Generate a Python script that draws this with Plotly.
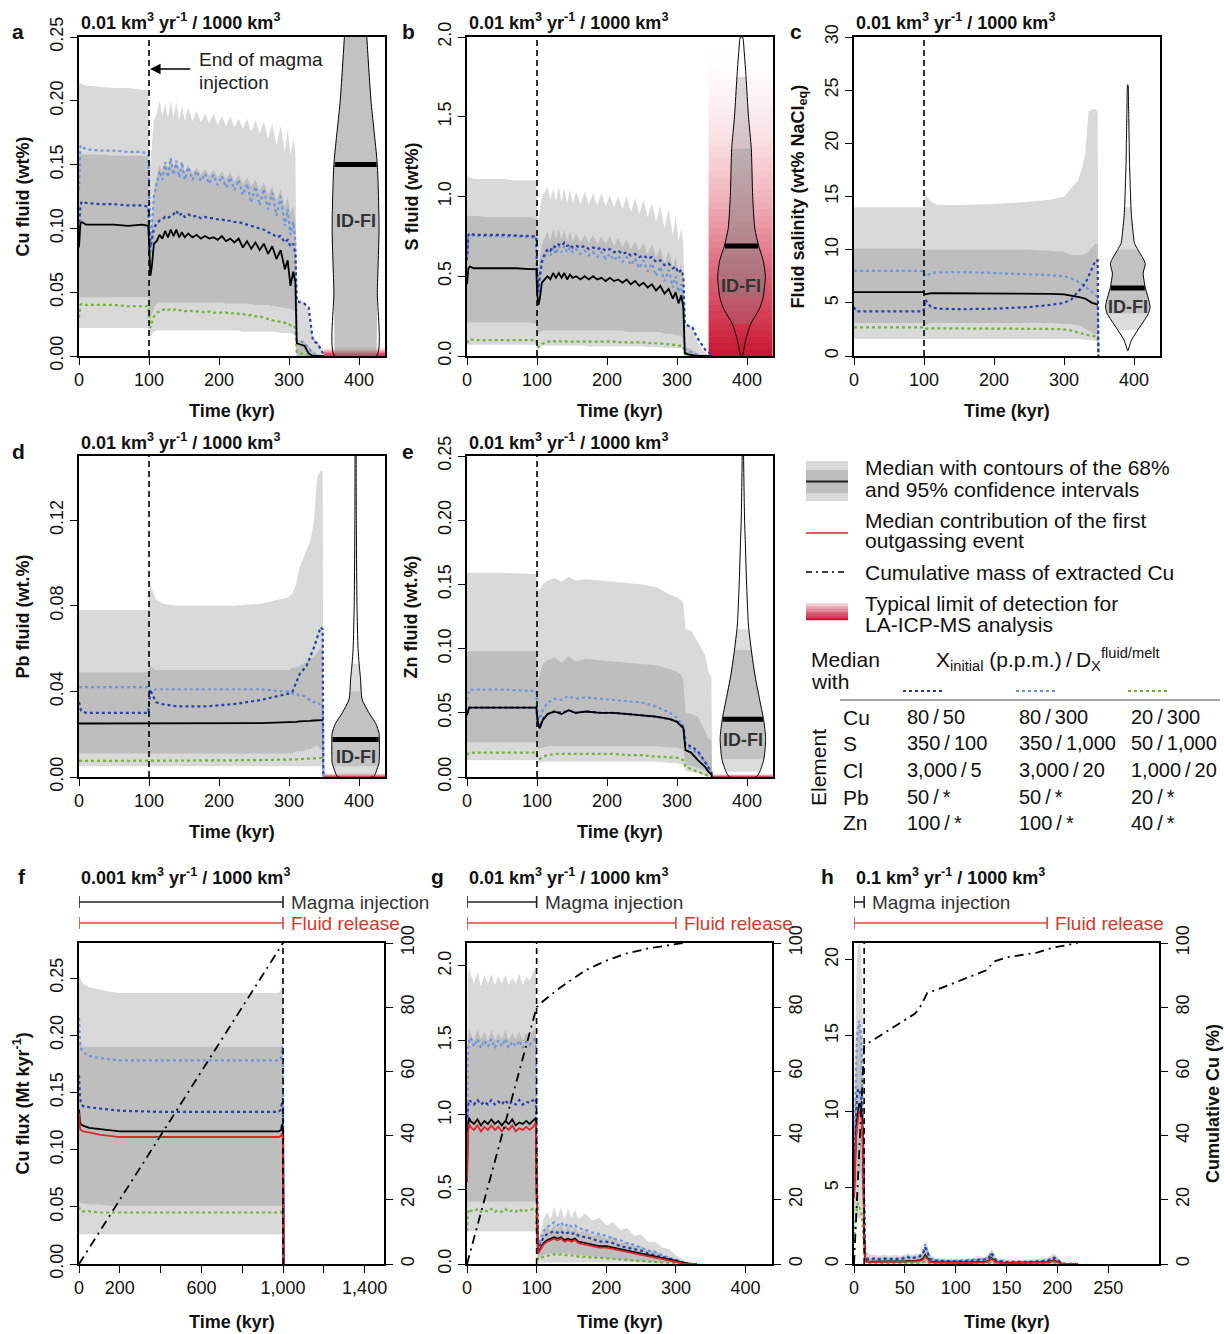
import numpy as np
import plotly.graph_objects as go

W, H = 1224, 1334
FONT = "Liberation Sans, Arial, Helvetica, sans-serif"
LIGHT = "#d9d9d9"
DARK = "#bebebe"
DBLUE = "#2b3fa8"
LBLUE = "#7095dc"
GREEN = "#72b33c"
RED = "#e0262a"
BARRED = "#d44a38"

def px(x):
    return x / W

def py(y):
    return 1 - y / H

# ------------------------------------------------------------------ data
# panel a : Cu fluid (wt%)
tA = [0, 2, 4, 10, 30, 50, 70, 90, 99, 100,
      102, 104, 107, 111, 115, 119, 123, 127, 131, 135,
      139, 143, 147, 151, 156, 162, 168, 174, 180, 186,
      192, 198, 204, 210, 216, 222, 228, 234, 240, 246,
      252, 258, 264, 270, 276, 282, 288, 294, 298, 302,
      306, 309, 311, 316, 322, 328, 334, 340, 346, 350]
a_hi95 = [.215, .214, .213, .212, .211, .210, .210, .209, .208, .160,
          .150, .165, .185, .190, .200, .188, .198, .186, .200, .187,
          .199, .185, .196, .184, .195, .184, .192, .183, .190, .182,
          .190, .181, .188, .180, .188, .179, .186, .178, .186, .176,
          .185, .174, .184, .170, .182, .165, .180, .160, .178, .158,
          .170, .160, .045, .044, .042, .035, .015, .012, .008, 0]
a_lo95 = [.022, .022, .022, .022, .022, .022, .022, .022, .022, .018,
          .015, .016, .019, .020, .020, .020, .020, .020, .020, .020,
          .020, .020, .020, .020, .020, .020, .020, .020, .020, .020,
          .020, .020, .020, .020, .020, .020, .020, .019, .019, .019,
          .019, .019, .019, .019, .019, .019, .018, .018, .018, .018,
          .017, .016, 0, 0, 0, 0, 0, 0, 0, 0]
a_hi68 = [.157, .158, .158, .158, .158, .157, .157, .157, .156, .090,
          .080, .100, .130, .140, .150, .145, .153, .146, .155, .147,
          .154, .145, .152, .144, .150, .143, .148, .142, .147, .141,
          .146, .140, .145, .139, .144, .137, .142, .135, .140, .133,
          .138, .130, .136, .127, .133, .122, .130, .117, .125, .112,
          .118, .105, .012, .012, .011, .008, .004, .002, 0, 0]
a_lo68 = [.046, .046, .046, .046, .046, .046, .046, .046, .046, .032,
          .028, .032, .038, .041, .042, .042, .042, .042, .042, .042,
          .042, .042, .042, .042, .042, .042, .042, .042, .042, .042,
          .042, .042, .042, .041, .041, .041, .041, .041, .041, .041,
          .040, .040, .040, .040, .039, .039, .038, .038, .037, .037,
          .036, .035, 0, 0, 0, 0, 0, 0, 0, 0]
a_med = [.085, .104, .105, .103, .103, .103, .102, .103, .102, .085,
         .063, .070, .088, .090, .095, .092, .098, .093, .099, .094,
         .099, .093, .097, .093, .096, .093, .095, .092, .094, .092,
         .093, .091, .094, .090, .092, .089, .092, .085, .090, .084,
         .089, .083, .088, .080, .086, .076, .083, .068, .075, .055,
         .066, .058, .010, .009, .008, .002, 0, 0, 0, 0]
a_db = [.100, .118, .121, .120, .119, .119, .118, .118, .117, .100,
        .085, .090, .100, .104, .106, .107, .109, .108, .110, .111,
        .114, .110, .112, .109, .111, .109, .110, .108, .109, .108,
        .108, .107, .107, .106, .106, .105, .105, .104, .103, .102,
        .101, .100, .099, .097, .096, .093, .094, .089, .091, .086,
        .088, .080, .043, .042, .041, .038, .012, .010, .005, 0]
a_lb = [.130, .165, .164, .162, .161, .161, .160, .160, .158, .120,
        .080, .100, .125, .135, .145, .138, .152, .140, .155, .142,
        .153, .140, .152, .138, .148, .138, .145, .137, .143, .135,
        .142, .134, .141, .132, .140, .130, .138, .126, .135, .120,
        .133, .118, .131, .115, .128, .110, .125, .102, .115, .095,
        .105, .090, .012, .012, .010, .006, .002, 0, 0, 0]
a_gr = [.030, .040, .041, .040, .040, .040, .039, .039, .039, .030,
        .022, .026, .031, .034, .035, .036, .037, .036, .037, .036,
        .037, .036, .036, .035, .036, .035, .035, .035, .034, .035,
        .034, .034, .034, .034, .033, .034, .033, .033, .032, .032,
        .031, .031, .030, .029, .028, .027, .027, .026, .026, .024,
        .024, .022, .003, .002, .001, 0, 0, 0, 0, 0]

# panel b : S fluid (wt%)
tB = tA
b_hi95 = [1.13, 1.12, 1.12, 1.11, 1.11, 1.11, 1.10, 1.10, 1.10, 0.90,
          0.85, 0.92, 1.00, 1.03, 1.06, 0.98, 1.05, 0.97, 1.06, 0.97,
          1.05, 0.96, 1.04, 0.96, 1.03, 0.95, 1.03, 0.95, 1.02, 0.94,
          1.02, 0.94, 1.01, 0.93, 1.00, 0.92, 1.00, 0.90, 0.99, 0.89,
          0.98, 0.87, 0.96, 0.84, 0.94, 0.80, 0.92, 0.75, 0.88, 0.72,
          0.80, 0.70, 0.20, 0.19, 0.18, 0.10, 0.05, 0.02, 0.01, 0]
b_lo95 = [.07, .07, .07, .07, .07, .07, .07, .07, .07, .06,
          .05, .055, .065, .065, .065, .065, .065, .065, .065, .065,
          .065, .065, .065, .065, .065, .065, .065, .06, .06, .06,
          .06, .06, .06, .06, .06, .06, .06, .06, .06, .06,
          .06, .055, .055, .055, .055, .05, .05, .05, .05, .05,
          .05, .045, 0, 0, 0, 0, 0, 0, 0, 0]
b_hi68 = [.87, .88, .88, .88, .87, .87, .87, .87, .86, .60,
          .55, .60, .70, .74, .78, .72, .80, .73, .80, .73,
          .79, .72, .78, .72, .77, .71, .76, .71, .76, .70,
          .75, .70, .75, .69, .74, .68, .73, .67, .72, .66,
          .71, .64, .70, .62, .68, .58, .66, .55, .62, .52,
          .58, .48, .06, .05, .04, .02, .01, 0, 0, 0]
b_lo68 = [.21, .21, .21, .21, .21, .21, .21, .21, .20, .17,
          .14, .15, .16, .16, .16, .16, .16, .16, .16, .16,
          .16, .16, .16, .16, .16, .16, .16, .16, .16, .16,
          .16, .16, .16, .16, .16, .16, .15, .15, .15, .15,
          .15, .15, .15, .15, .15, .14, .14, .14, .13, .13,
          .12, .11, 0, 0, 0, 0, 0, 0, 0, 0]
b_med = [.45, .55, .56, .55, .55, .55, .55, .545, .545, .40,
         .32, .36, .46, .48, .50, .48, .52, .49, .52, .49,
         .52, .48, .51, .49, .50, .48, .50, .48, .50, .48,
         .49, .47, .49, .47, .48, .46, .48, .45, .47, .44,
         .46, .43, .45, .41, .44, .39, .42, .36, .40, .33,
         .38, .30, .02, .01, .005, 0, 0, 0, 0, 0]
b_db = [.60, .76, .77, .76, .76, .76, .755, .75, .75, .55,
        .40, .50, .60, .64, .67, .66, .69, .68, .70, .69,
        .71, .69, .70, .68, .69, .68, .69, .67, .68, .67,
        .68, .66, .67, .65, .66, .64, .65, .63, .64, .62,
        .63, .61, .62, .59, .60, .57, .58, .55, .56, .52,
        .54, .50, .20, .19, .18, .12, .08, .04, .02, 0]
b_lb = [.62, .75, .76, .755, .75, .75, .75, .745, .74, .50,
        .38, .48, .58, .62, .66, .63, .68, .64, .69, .65,
        .69, .65, .68, .65, .67, .64, .66, .63, .65, .62,
        .65, .61, .64, .60, .63, .59, .62, .57, .61, .55,
        .60, .53, .58, .50, .56, .47, .54, .43, .50, .40,
        .45, .38, .04, .03, .02, .01, 0, 0, 0, 0]
b_gr = [.08, .10, .105, .10, .10, .10, .10, .10, .10, .07,
        .055, .06, .075, .085, .09, .09, .095, .09, .095, .09,
        .095, .09, .09, .09, .09, .09, .09, .09, .09, .09,
        .09, .09, .09, .09, .085, .09, .085, .085, .085, .085,
        .085, .08, .08, .08, .08, .075, .075, .07, .07, .065,
        .065, .06, .01, .005, 0, 0, 0, 0, 0, 0]

# panel c : fluid salinity (wt% NaCl eq)
tC = [0, 3, 10, 50, 99, 100, 102, 105, 110, 120, 150, 200, 250, 280, 300,
      310, 320, 325, 330, 335, 340, 345, 348, 349]
c_hi95 = [14.0, 14.0, 14.0, 14.0, 14.0, 14.5, 15.3, 14.9, 14.5, 14.2, 14.2, 14.3, 14.5, 14.7, 15.0,
          15.8, 16.5, 17.5, 19.0, 23.0, 23.2, 23.2, 23.0, 0]
c_lo95 = [1.6, 1.6, 1.6, 1.6, 1.6, 1.6, 1.6, 1.6, 1.6, 1.6, 1.6, 1.6, 1.6, 1.6, 1.6,
          1.6, 1.6, 1.6, 1.55, 1.5, 1.5, 1.4, 1.3, 0]
c_hi68 = [10.1, 10.1, 10.1, 10.1, 10.1, 10.0, 10.0, 10.0, 10.0, 10.0, 10.0, 10.0, 10.0, 9.9, 9.8,
          9.5, 9.5, 9.5, 9.6, 9.8, 10.2, 10.6, 10.5, 0]
c_lo68 = [3.1, 3.1, 3.1, 3.1, 3.1, 3.0, 2.9, 3.0, 3.1, 3.1, 3.1, 3.1, 3.1, 3.1, 3.0,
          3.0, 2.9, 2.8, 2.6, 2.4, 2.2, 2.0, 2.0, 0]
c_med = [6.0, 6.0, 6.0, 6.0, 6.0, 5.9, 5.8, 5.85, 5.9, 5.9, 5.9, 5.9, 5.9, 5.85, 5.8,
         5.7, 5.6, 5.5, 5.4, 5.2, 5.0, 4.9, 4.8, None]
c_lb = [8.0, 8.0, 8.0, 8.0, 8.0, 7.6, 7.5, 7.6, 7.8, 7.85, 7.9, 7.8, 7.7, 7.6, 7.5,
        7.3, 7.0, 6.8, 6.5, 6.3, 6.0, 5.7, 5.5, 0]
c_db = [4.6, 4.2, 4.2, 4.2, 4.2, 4.5, 5.3, 5.0, 4.6, 4.45, 4.4, 4.45, 4.6, 4.8, 5.0,
        5.3, 6.0, 6.4, 6.8, 7.5, 8.3, 9.0, 9.0, 0]
c_gr = [2.7, 2.7, 2.7, 2.7, 2.7, 2.6, 2.55, 2.6, 2.6, 2.6, 2.6, 2.6, 2.6, 2.55, 2.5,
        2.4, 2.2, 2.1, 2.0, 1.95, 1.9, 1.85, 1.8, 0]

# panel d : Pb fluid (wt.%)
tD = [0, 3, 10, 50, 99, 100, 102, 104, 110, 120, 140, 180, 220, 260, 290,
      300, 305, 310, 315, 320, 325, 330, 335, 340, 345, 348, 349]
d_hi95 = [.078, .078, .078, .078, .078, .085, .091, .088, .083, .081, .080, .080, .080, .081, .083,
          .084, .086, .090, .098, .102, .106, .110, .118, .140, .143, .143, 0]
d_lo95 = [.005, .005, .005, .005, .005, .005, .005, .005, .005, .005, .005, .005, .005, .005, .005,
          .005, .005, .005, .005, .005, .005, .005, .005, .005, .005, .005, 0]
d_hi68 = [.049, .049, .049, .049, .049, .050, .052, .051, .050, .050, .050, .050, .050, .050, .050,
          .050, .051, .051, .052, .053, .054, .055, .056, .058, .060, .060, 0]
d_lo68 = [.011, .011, .011, .011, .011, .011, .011, .011, .011, .011, .011, .011, .011, .011, .011,
          .011, .011, .012, .012, .012, .013, .013, .014, .015, .013, .012, 0]
d_med = [.025, .025, .025, .025, .025, .025, .0252, .025, .025, .025, .025, .025, .025, .0252, .0255,
         .0255, .0256, .0258, .026, .026, .026, .0262, .0264, .0265, .0266, .0266, None]
d_lb = [.042, .042, .042, .042, .042, .041, .040, .040, .041, .041, .041, .041, .041, .041, .040,
        .040, .039, .039, .038, .038, .037, .036, .035, .035, .034, .033, 0]
d_db = [.035, .031, .030, .030, .030, .034, .041, .039, .035, .034, .033, .033, .034, .036, .038,
        .039, .040, .044, .048, .050, .052, .056, .060, .065, .070, .069, 0]
d_gr = [.0075, .0075, .0075, .0075, .0075, .0075, .0075, .0075, .0076, .0076, .0077, .0077, .0078, .0079, .008,
        .008, .008, .0082, .0083, .0084, .0085, .0086, .0088, .009, .009, .009, 0]

# panel e : Zn fluid (wt.%)
tE = [0, 3, 10, 50, 99, 100, 102, 104, 108, 115, 125, 135, 145, 155, 170,
      190, 210, 230, 250, 270, 290, 300, 305, 309, 312, 320, 330, 340, 345, 349, 350]
e_hi95 = [.159, .159, .159, .159, .158, .150, .145, .147, .150, .153, .155, .152, .156, .153, .154,
          .153, .152, .151, .150, .148, .142, .140, .138, .135, .115, .114, .105, .095, .082, .078, 0]
e_lo95 = [.013, .013, .013, .013, .013, .012, .011, .011, .012, .012, .012, .012, .012, .012, .012,
          .012, .012, .012, .012, .012, .011, .011, .010, .010, .005, .004, .003, .001, 0, 0, 0]
e_hi68 = [.098, .098, .098, .098, .098, .080, .075, .080, .088, .091, .093, .089, .094, .090, .092,
          .091, .090, .089, .088, .087, .084, .082, .080, .075, .050, .049, .047, .036, .030, .028, 0]
e_lo68 = [.027, .027, .027, .027, .027, .024, .022, .022, .023, .024, .024, .024, .024, .024, .024,
          .024, .024, .024, .024, .024, .023, .023, .022, .021, .010, .009, .007, .005, .003, .002, 0]
e_med = [.048, .054, .054, .054, .054, .048, .040, .038, .044, .049, .051, .049, .052, .050, .051,
         .050, .050, .049, .048, .047, .045, .043, .040, .038, .021, .019, .013, .008, .004, .002, 0]
e_db = [.049, .054, .054, .054, .054, .048, .041, .039, .045, .049, .051, .050, .052, .050, .051,
        .050, .050, .049, .048, .047, .045, .043, .041, .039, .025, .024, .020, .012, .008, .004, 0]
e_lb = [.060, .068, .068, .068, .067, .055, .047, .045, .052, .058, .061, .060, .063, .061, .062,
        .061, .060, .059, .058, .055, .050, .046, .043, .040, .025, .022, .018, .012, .008, .004, 0]
e_gr = [.017, .019, .019, .019, .019, .016, .014, .014, .016, .017, .018, .018, .018, .018, .018,
        .018, .018, .017, .017, .016, .015, .015, .014, .013, .008, .006, .004, .002, .001, 0, 0]

# panel f : Cu flux, 0.001 km3/yr
tF = [0, 2, 5, 10, 20, 50, 100, 150, 200, 400, 600, 800, 980, 990, 995, 1000, 1003]
f_hi95 = [.255, .252, .250, .248, .245, .242, .240, .238, .237, .237, .237, .237, .237, .240, .250, .240, 0]
f_lo95 = [.026, .026, .026, .026, .026, .026, .026, .026, .026, .026, .026, .026, .026, .026, .026, .026, 0]
f_hi68 = [.195, .193, .192, .191, .190, .190, .190, .190, .190, .190, .190, .190, .190, .190, .190, .185, 0]
f_lo68 = [.054, .054, .054, .053, .053, .052, .052, .051, .051, .051, .051, .051, .051, .051, .051, .050, 0]
f_med = [.135, .130, .124, .122, .121, .119, .118, .117, .116, .116, .116, .116, .116, .117, .122, .115, 0]
f_red = [.132, .125, .118, .117, .116, .115, .113, .112, .111, .111, .111, .111, .111, .112, .114, .110, 0]
f_lb = [.215, .205, .195, .188, .185, .182, .180, .179, .178, .178, .178, .178, .178, .180, .190, .185, 0]
f_db = [.165, .155, .145, .140, .138, .137, .136, .135, .134, .133, .133, .133, .133, .135, .142, .135, 0]
f_gr = [.050, .048, .047, .047, .046, .046, .045, .045, .045, .045, .045, .045, .045, .045, .047, .046, 0]
tFc = [0, 1000]
f_cum = [0, 100]

# panel g : Cu flux, 0.01 km3/yr
tG = [0, 1, 3, 5, 10, 15, 20, 25, 30, 35,
      40, 45, 50, 55, 60, 65, 70, 75, 80, 85,
      90, 95, 99, 100, 102, 105, 110, 115, 120, 125,
      130, 135, 140, 145, 150, 155, 160, 170, 180, 190,
      200, 210, 220, 230, 240, 250, 260, 270, 280, 290,
      300, 310, 320, 330]
g_hi95 = [1.2, 1.9, 2.0, 1.95, 1.88, 1.96, 1.86, 1.94, 1.88, 1.95,
          1.87, 1.93, 1.88, 1.94, 1.87, 1.92, 1.88, 1.95, 1.87, 1.93,
          1.90, 1.96, 2.0, 1.0, 0.12, 0.20, 0.30, 0.35, 0.30, 0.38,
          0.31, 0.38, 0.30, 0.37, 0.31, 0.36, 0.30, 0.34, 0.29, 0.31,
          0.26, 0.28, 0.23, 0.24, 0.19, 0.20, 0.15, 0.15, 0.11, 0.10,
          0.06, 0.03, 0.01, 0]
g_lo95 = [0.20, 0.22, 0.22, 0.22, 0.22, 0.22, 0.22, 0.22, 0.22, 0.22,
          0.22, 0.22, 0.22, 0.22, 0.22, 0.22, 0.22, 0.22, 0.22, 0.22,
          0.22, 0.22, 0.22, 0.10, 0.01, 0.01, 0.01, 0.01, 0.01, 0.01,
          0.01, 0.01, 0.01, 0.01, 0.01, 0.01, 0.01, 0.01, 0.01, 0.01,
          0.01, 0.01, 0.01, 0.01, 0.01, 0.005, 0.005, 0.005, 0.005, 0.005,
          0, 0, 0, 0]
g_hi68 = [0.9, 1.5, 1.58, 1.55, 1.50, 1.57, 1.51, 1.56, 1.50, 1.57,
          1.50, 1.55, 1.51, 1.57, 1.50, 1.55, 1.51, 1.56, 1.50, 1.55,
          1.52, 1.57, 1.58, 0.8, 0.08, 0.15, 0.22, 0.25, 0.22, 0.27,
          0.23, 0.27, 0.22, 0.26, 0.22, 0.25, 0.21, 0.23, 0.19, 0.20,
          0.17, 0.18, 0.14, 0.15, 0.12, 0.12, 0.09, 0.09, 0.06, 0.05,
          0.03, 0.01, 0, 0]
g_lo68 = [0.35, 0.42, 0.42, 0.42, 0.42, 0.42, 0.42, 0.42, 0.42, 0.42,
          0.42, 0.42, 0.42, 0.42, 0.42, 0.42, 0.42, 0.42, 0.42, 0.42,
          0.42, 0.42, 0.42, 0.20, 0.04, 0.05, 0.06, 0.07, 0.07, 0.07,
          0.07, 0.07, 0.07, 0.07, 0.065, 0.065, 0.06, 0.055, 0.05, 0.045,
          0.04, 0.035, 0.03, 0.025, 0.02, 0.018, 0.015, 0.012, 0.01, 0.006,
          0.004, 0.002, 0, 0]
g_med = [0.55, 0.90, 0.98, 0.96, 0.94, 0.97, 0.93, 0.96, 0.94, 0.97,
         0.94, 0.96, 0.93, 0.96, 0.94, 0.97, 0.93, 0.95, 0.94, 0.96,
         0.94, 0.96, 0.98, 0.50, 0.08, 0.10, 0.14, 0.16, 0.17, 0.18,
         0.17, 0.18, 0.16, 0.17, 0.16, 0.17, 0.15, 0.14, 0.13, 0.12,
         0.12, 0.11, 0.10, 0.09, 0.08, 0.07, 0.06, 0.05, 0.04, 0.03,
         0.02, 0.005, 0, 0]
g_red = [0.55, 0.86, 0.94, 0.92, 0.90, 0.93, 0.89, 0.92, 0.90, 0.93,
         0.90, 0.92, 0.89, 0.92, 0.90, 0.93, 0.89, 0.91, 0.90, 0.92,
         0.90, 0.92, 0.95, 0.48, 0.07, 0.09, 0.13, 0.15, 0.16, 0.17,
         0.16, 0.17, 0.15, 0.16, 0.15, 0.16, 0.14, 0.13, 0.12, 0.11,
         0.11, 0.10, 0.09, 0.08, 0.07, 0.06, 0.05, 0.04, 0.035, 0.025,
         0.015, 0.004, 0, 0]
g_lb = [0.8, 1.40, 1.50, 1.52, 1.46, 1.51, 1.45, 1.50, 1.46, 1.51,
        1.45, 1.50, 1.46, 1.51, 1.45, 1.49, 1.46, 1.50, 1.45, 1.49,
        1.47, 1.50, 1.52, 0.80, 0.10, 0.15, 0.22, 0.25, 0.26, 0.28,
        0.26, 0.28, 0.25, 0.27, 0.25, 0.26, 0.24, 0.23, 0.21, 0.20,
        0.19, 0.17, 0.16, 0.14, 0.13, 0.11, 0.09, 0.08, 0.06, 0.04,
        0.03, 0.01, 0, 0]
g_db = [0.7, 1.05, 1.10, 1.09, 1.07, 1.10, 1.07, 1.09, 1.07, 1.10,
        1.07, 1.09, 1.07, 1.10, 1.07, 1.09, 1.07, 1.10, 1.07, 1.09,
        1.08, 1.10, 1.11, 0.60, 0.09, 0.13, 0.18, 0.20, 0.21, 0.22,
        0.21, 0.22, 0.20, 0.21, 0.20, 0.21, 0.19, 0.18, 0.17, 0.15,
        0.15, 0.14, 0.12, 0.11, 0.10, 0.09, 0.07, 0.06, 0.05, 0.035,
        0.025, 0.008, 0, 0]
g_gr = [0.22, 0.33, 0.37, 0.36, 0.35, 0.37, 0.35, 0.36, 0.35, 0.37,
        0.35, 0.36, 0.35, 0.37, 0.35, 0.36, 0.35, 0.37, 0.35, 0.36,
        0.36, 0.37, 0.37, 0.20, 0.03, 0.04, 0.05, 0.055, 0.06, 0.065,
        0.06, 0.065, 0.06, 0.06, 0.055, 0.055, 0.05, 0.048, 0.045, 0.04,
        0.038, 0.034, 0.03, 0.027, 0.024, 0.02, 0.017, 0.014, 0.011, 0.008,
        0.005, 0.002, 0, 0]
tGc = [0, 100, 110, 130, 150, 170, 200, 230, 260, 290, 310]
g_cum = [0, 80, 82, 85.5, 88.5, 91.5, 94.5, 96.8, 98.3, 99.4, 100]

# panel h : Cu flux, 0.1 km3/yr
tH = [0, 1, 2, 3, 4, 5, 6, 7, 8, 9,
      10, 11, 12, 14, 17, 20, 25, 30, 35, 40,
      45, 50, 53, 56, 60, 65, 68, 70, 72, 75,
      80, 90, 100, 110, 120, 130, 133, 135, 137, 140,
      150, 170, 190, 195, 197, 200, 205, 220]
h_hi95 = [5, 12, 18, 20, 21, 21, 21, 20, 18, 14,
          6, 1.5, 0.8, 0.7, 0.6, 0.6, 0.55, 0.6, 0.55, 0.6,
          0.55, 0.6, 0.7, 0.6, 0.65, 0.7, 1.0, 1.5, 1.2, 0.6,
          0.4, 0.35, 0.35, 0.35, 0.4, 0.5, 0.7, 1.0, 0.8, 0.4,
          0.3, 0.3, 0.4, 0.6, 0.7, 0.5, 0.1, 0]
h_lo95 = [2, 2.5, 3, 3, 3, 3, 3, 3, 2.5, 2,
          1, 0.1, 0.05, 0.03, 0.03, 0.03, 0.03, 0.03, 0.03, 0.03,
          0.03, 0.03, 0.03, 0.03, 0.03, 0.03, 0.03, 0.03, 0.03, 0.03,
          0.03, 0.03, 0.03, 0.03, 0.03, 0.03, 0.03, 0.03, 0.03, 0.03,
          0.02, 0.02, 0.02, 0.02, 0.02, 0.02, 0, 0]
h_hi68 = [4, 9, 13, 15, 16, 16, 15.5, 15, 13, 10,
          4, 1, 0.5, 0.45, 0.4, 0.4, 0.4, 0.4, 0.4, 0.4,
          0.4, 0.45, 0.5, 0.45, 0.5, 0.55, 0.8, 1.2, 0.9, 0.45,
          0.3, 0.25, 0.25, 0.25, 0.3, 0.35, 0.5, 0.8, 0.6, 0.3,
          0.2, 0.2, 0.3, 0.45, 0.5, 0.4, 0.05, 0]
h_lo68 = [3, 4, 5, 5.5, 6, 6, 6, 6, 5, 4,
          2, 0.2, 0.1, 0.08, 0.08, 0.08, 0.08, 0.08, 0.08, 0.08,
          0.08, 0.08, 0.08, 0.08, 0.08, 0.08, 0.08, 0.08, 0.08, 0.08,
          0.08, 0.08, 0.08, 0.08, 0.08, 0.08, 0.08, 0.08, 0.08, 0.08,
          0.05, 0.05, 0.05, 0.05, 0.05, 0.05, 0, 0]
h_med = [4.5, 7, 8.5, 9.5, 10, 10.5, 10.5, 10.3, 9.5, 8,
         2, 0.3, 0.2, 0.15, 0.15, 0.15, 0.15, 0.15, 0.15, 0.15,
         0.15, 0.18, 0.2, 0.18, 0.2, 0.25, 0.35, 0.6, 0.4, 0.15,
         0.12, 0.1, 0.1, 0.1, 0.12, 0.15, 0.25, 0.4, 0.3, 0.12,
         0.08, 0.08, 0.12, 0.2, 0.25, 0.15, 0.01, 0]
h_red = [4.3, 6.8, 8.2, 9.0, 9.6, 10.0, 10.0, 9.8, 9.0, 7.5,
         1.8, 0.25, 0.15, 0.12, 0.12, 0.12, 0.12, 0.12, 0.12, 0.12,
         0.12, 0.15, 0.17, 0.15, 0.17, 0.2, 0.3, 0.5, 0.35, 0.12,
         0.1, 0.08, 0.08, 0.08, 0.1, 0.12, 0.2, 0.35, 0.25, 0.1,
         0.06, 0.06, 0.1, 0.17, 0.2, 0.12, 0.01, 0]
h_lb = [6, 10, 13, 15, 15.5, 16, 15.5, 15, 12, 8,
        3, 0.6, 0.4, 0.35, 0.35, 0.4, 0.35, 0.4, 0.35, 0.4,
        0.35, 0.45, 0.5, 0.4, 0.45, 0.55, 0.8, 1.3, 0.9, 0.35,
        0.25, 0.2, 0.2, 0.25, 0.3, 0.35, 0.5, 0.8, 0.6, 0.25,
        0.15, 0.15, 0.25, 0.4, 0.45, 0.3, 0.02, 0]
h_db = [5, 8, 10, 11, 11.5, 11.5, 11.3, 11, 10, 7,
        2.5, 0.5, 0.35, 0.3, 0.3, 0.35, 0.3, 0.35, 0.3, 0.35,
        0.3, 0.4, 0.45, 0.35, 0.4, 0.5, 0.7, 1.1, 0.8, 0.3,
        0.22, 0.18, 0.18, 0.2, 0.25, 0.3, 0.45, 0.7, 0.5, 0.2,
        0.12, 0.12, 0.2, 0.35, 0.4, 0.25, 0.02, 0]
h_gr = [1.5, 2.5, 3.3, 3.8, 4.0, 3.8, 3.6, 3.4, 3.0, 2.0,
        0.6, 0.08, 0.05, 0.04, 0.04, 0.04, 0.04, 0.04, 0.04, 0.04,
        0.04, 0.05, 0.06, 0.05, 0.06, 0.07, 0.1, 0.18, 0.12, 0.05,
        0.03, 0.03, 0.03, 0.03, 0.03, 0.04, 0.06, 0.1, 0.08, 0.03,
        0.02, 0.02, 0.03, 0.05, 0.06, 0.04, 0, 0]
tHc = [0, 10, 20, 40, 60, 65, 72, 90, 110, 130, 138, 150, 180, 195, 220]
h_cum = [0, 68, 70, 74, 78, 80, 84.4, 86.5, 89, 91.5, 94.3, 95.5, 97, 98.5, 100]

# violins of measured inclusion data (ID-FI): levels, half-widths (kyr), centre
va_y = [0, 0.05, 0.10, 0.15, 0.20, 0.25, 0.27]
va_hw = [30, 31, 33.5, 31, 22, 16, 14]
vb_y = [0, 0.1, 0.2, 0.3, 0.37, 0.5, 0.6, 0.69, 0.8, 1.0, 1.3, 1.5, 1.75, 1.9, 2.0]
vb_hw = [1, 6, 13, 26, 31, 34, 31, 24.5, 19, 16, 14, 10, 6.5, 4, 1.5]
vc_y = [0.5, 0.85, 1.5, 2.45, 3.4, 4.0, 4.6, 5.5, 6.4, 7.8, 8.7, 10.0, 10.6, 11.85, 13, 14,
        16, 18, 20, 22, 24, 25.5]
vc_hw = [0.3, 2, 5.3, 14.3, 24, 29.5, 31.8, 29, 25, 22, 24.9, 14.5, 9.6, 7.2, 5.5, 4.5,
         3.5, 2.5, 2, 1.5, 1, 0.3]
vd_y = [0, 0.001, 0.005, 0.0065, 0.0175, 0.0205, 0.025, 0.03, 0.036, 0.04, 0.0453, 0.053,
        0.06, 0.08, 0.1, 0.12, 0.15, 0.16]
vd_hw = [25, 27.6, 32, 33.5, 34, 33.5, 28.8, 19, 9.6, 8, 7.2, 5, 3.5, 2, 1.4, 1, 0.8, 0.8]
ve_y = [0, 0.004, 0.014, 0.03, 0.045, 0.06, 0.08, 0.099, 0.115, 0.12, 0.15, 0.18, 0.2, 0.25, 0.26]
ve_hw = [19, 24, 30, 32.5, 29.5, 24, 17, 12, 8.5, 7.7, 5.3, 3.6, 2.4, 1, 1]
viol_center = {'a': 395, 'b': 392, 'c': 391, 'd': 395, 'e': 394}
viol_med = {'a': 0.15, 'b': 0.69, 'c': 6.4, 'd': 0.0175, 'e': 0.045}
viol_q95 = {'a': (0, 0.27), 'b': (0.2, 1.75), 'c': (2.45, 14), 'd': (0.001, 0.053), 'e': (0.004, 0.115)}
viol_q68 = {'a': (0, 0.27), 'b': (0.37, 1.3), 'c': (4.0, 10.0), 'd': (0.005, 0.04), 'e': (0.014, 0.099)}
viol_label_y = {'a': 0.106, 'b': 0.44, 'c': 4.6, 'd': 0.0092, 'e': 0.029}

# LA-ICP-MS limit of detection: start time and upper value
lod_x0 = {'a': 350, 'b': 345, 'd': 349, 'e': 351}
lod_top = {'a': 0.008, 'b': 2.0, 'd': 0.0022, 'e': 0.003}

inj_end_ae = 100
inj_end = {'f': 1000, 'g': 100, 'h': 10}
fluid_end = {'f': 1000, 'g': 300, 'h': 190}
arrow_y, arrow_tail = 0.225, 161

leg_elements = ['Cu', 'S', 'Cl', 'Pb', 'Zn']
leg_col1 = ['80 / 50', '350 / 100', '3,000 / 5', '50 / *', '100 / *']
leg_col2 = ['80 / 300', '350 / 1,000', '3,000 / 20', '50 / *', '100 / *']
leg_col3 = ['20 / 300', '50 / 1,000', '1,000 / 20', '20 / *', '40 / *']

# ------------------------------------------------------------------ layout spec
P = {
    'a': dict(n=1, box=(79, 385, 37, 356), xr=437, yr=0.25, yt=[0, .05, .10, .15, .20, .25], yf='{:.2f}',
              yl='Cu fluid (wt%)', ylx=22),
    'b': dict(n=2, box=(467, 773, 37, 356), xr=437, yr=2.0, yt=[0, .5, 1, 1.5, 2], yf='{:.1f}',
              yl='S fluid (wt%)', ylx=411),
    'c': dict(n=3, box=(854, 1160, 37, 356), xr=437, yr=30, yt=[0, 5, 10, 15, 20, 25, 30], yf='{:.0f}',
              yl='Fluid salinity (wt% NaCl<sub>eq</sub>)', ylx=799),
    'd': dict(n=4, box=(79, 385, 456, 777), xr=437, yr=0.15, yt=[0, .04, .08, .12], yf='{:.2f}',
              yl='Pb fluid (wt.%)', ylx=22),
    'e': dict(n=5, box=(467, 773, 456, 777), xr=437, yr=0.25, yt=[0, .05, .10, .15, .20, .25], yf='{:.2f}',
              yl='Zn fluid (wt.%)', ylx=410),
    'f': dict(n=6, box=(79, 384, 943, 1264), xr=1495, yr=0.2806, yt=[0, .05, .10, .15, .20, .25], yf='{:.2f}',
              yl='Cu flux (Mt kyr<sup>-1</sup>)', ylx=22),
    'g': dict(n=7, box=(467, 772, 943, 1264), xr=438, yr=2.154, yt=[0, .5, 1, 1.5, 2], yf='{:.1f}',
              yl=None, ylx=None),
    'h': dict(n=8, box=(854, 1159, 943, 1264), xr=300, yr=21.1, yt=[0, 5, 10, 15, 20], yf='{:.0f}',
              yl=None, ylx=None),
}
xt_std = ([0, 100, 200, 300, 400], ['0', '100', '200', '300', '400'])
xt_f = ([0, 200, 400, 600, 800, 1000, 1200, 1400], ['0', '200', '', '600', '', '1,000', '', '1,400'])
xt_h = ([0, 50, 100, 150, 200, 250], ['0', '50', '100', '150', '200', '250'])
subtitle = {k: '0.01 km<sup>3</sup> yr<sup>-1</sup> / 1000 km<sup>3</sup>' for k in 'abcdeg'}
subtitle['f'] = '0.001 km<sup>3</sup> yr<sup>-1</sup> / 1000 km<sup>3</sup>'
subtitle['h'] = '0.1 km<sup>3</sup> yr<sup>-1</sup> / 1000 km<sup>3</sup>'
right_ax = {'f': 9, 'g': 10, 'h': 11}

series = {
    'a': (tA, a_lo95, a_hi95, a_lo68, a_hi68, a_med, a_db, a_lb, a_gr, None),
    'b': (tB, b_lo95, b_hi95, b_lo68, b_hi68, b_med, b_db, b_lb, b_gr, None),
    'c': (tC, c_lo95, c_hi95, c_lo68, c_hi68, c_med, c_db, c_lb, c_gr, None),
    'd': (tD, d_lo95, d_hi95, d_lo68, d_hi68, d_med, d_db, d_lb, d_gr, None),
    'e': (tE, e_lo95, e_hi95, e_lo68, e_hi68, e_med, e_db, e_lb, e_gr, None),
    'f': (tF, f_lo95, f_hi95, f_lo68, f_hi68, f_med, f_db, f_lb, f_gr, f_red),
    'g': (tG, g_lo95, g_hi95, g_lo68, g_hi68, g_med, g_db, g_lb, g_gr, g_red),
    'h': (tH, h_lo95, h_hi95, h_lo68, h_hi68, h_med, h_db, h_lb, h_gr, h_red),
}
cumul = {'f': (tFc, f_cum), 'g': (tGc, g_cum), 'h': (tHc, h_cum)}
violins = {'a': (va_y, va_hw), 'b': (vb_y, vb_hw), 'c': (vc_y, vc_hw), 'd': (vd_y, vd_hw), 'e': (ve_y, ve_hw)}


def ax_ids(n):
    return ('x' if n == 1 else f'x{n}'), ('y' if n == 1 else f'y{n}')


fig = go.Figure()
shapes = []
annotations = []


def ann(text, x, y, size=18, color='#111', xanchor='center', yanchor='middle', textangle=0,
        xref='paper', yref='paper', **kw):
    d = dict(text=text, x=x, y=y, xref=xref, yref=yref, showarrow=False,
             font=dict(family=FONT, size=size, color=color), xanchor=xanchor, yanchor=yanchor,
             textangle=textangle)
    d.update(kw)
    annotations.append(d)


# ---- LOD gradients first (lowest layer)
NG = 50
for k, x0 in lod_x0.items():
    xa, ya = ax_ids(P[k]['n'])
    edges = np.linspace(0, lod_top[k], NG + 1)
    z = [[i / (NG - 1)] for i in range(NG)]
    fig.add_trace(go.Heatmap(x=[x0, P[k]['xr']], y=edges, z=z, zmin=0, zmax=1,
                             colorscale=[[0, 'rgba(200,16,46,0.97)'], [0.3, 'rgba(205,30,58,0.62)'],
                                         [0.6, 'rgba(220,80,100,0.28)'], [0.85, 'rgba(235,150,160,0.08)'],
                                         [1, 'rgba(255,255,255,0.0)']],
                             showscale=False, hoverinfo='skip', xaxis=xa, yaxis=ya))

# ---- time series
for k, (t, lo95, hi95, lo68, hi68, med, db, lb, gr, red) in series.items():
    xa, ya = ax_ids(P[k]['n'])
    t = list(t)
    for lo, hi, col in ((lo95, hi95, LIGHT), (lo68, hi68, DARK)):
        fig.add_trace(go.Scatter(x=t + t[::-1], y=list(hi) + list(lo)[::-1], fill='toself', fillcolor=col,
                                 mode='lines', line=dict(width=0), hoverinfo='skip', xaxis=xa, yaxis=ya))
    for vals, col in ((gr, GREEN), (lb, LBLUE), (db, DBLUE)):
        fig.add_trace(go.Scatter(x=t, y=vals, mode='lines', line=dict(color=col, width=2.2, dash='dot'),
                                 hoverinfo='skip', xaxis=xa, yaxis=ya))
    fig.add_trace(go.Scatter(x=t, y=med, mode='lines', line=dict(color='black', width=1.8),
                             hoverinfo='skip', xaxis=xa, yaxis=ya))
    if red is not None:
        fig.add_trace(go.Scatter(x=t, y=red, mode='lines', line=dict(color=RED, width=1.8),
                                 hoverinfo='skip', xaxis=xa, yaxis=ya))

# ---- violins
VFILL = 'rgba(128,128,128,0.28)'
for k, (vy, vhw) in violins.items():
    xa, ya = ax_ids(P[k]['n'])
    c = viol_center[k]

    def poly(lo, hi):
        idx = [i for i, v in enumerate(vy) if lo <= v <= hi]
        ys = [vy[i] for i in idx]
        ws = [vhw[i] for i in idx]
        xs = [c - w for w in ws] + [c + w for w in ws[::-1]]
        yy = ys + ys[::-1]
        return xs + [xs[0]], yy + [yy[0]]

    for q in (viol_q95[k], viol_q68[k]):
        xs, ys = poly(*q)
        fig.add_trace(go.Scatter(x=xs, y=ys, fill='toself', fillcolor=VFILL, mode='lines',
                                 line=dict(width=0), hoverinfo='skip', xaxis=xa, yaxis=ya))
    xs, ys = poly(vy[0], vy[-1])
    fig.add_trace(go.Scatter(x=xs, y=ys, mode='lines', line=dict(color='black', width=1, shape='spline',
                                                                   smoothing=0.6),
                             hoverinfo='skip', xaxis=xa, yaxis=ya))
    mi = vy.index(viol_med[k])
    fig.add_trace(go.Scatter(x=[c - vhw[mi] * 0.97, c + vhw[mi] * 0.97], y=[vy[mi], vy[mi]], mode='lines',
                             line=dict(color='black', width=5), hoverinfo='skip', xaxis=xa, yaxis=ya))
    ann('<b>ID-FI</b>', c, viol_label_y[k], size=18, color='#333', xref=xa, yref=ya)

# ---- cumulative curves on right axes
for k, (tc, vc) in cumul.items():
    xa, _ = ax_ids(P[k]['n'])
    fig.add_trace(go.Scatter(x=tc, y=vc, mode='lines', line=dict(color='black', width=1.8, dash='9px,5px,2px,5px'),
                             hoverinfo='skip', xaxis=xa, yaxis=f"y{right_ax[k]}"))

# ---- axes
layout = {}
tickfont = dict(family=FONT, size=18, color='#111')
common = dict(ticks='outside', ticklen=7, tickwidth=1.3, tickcolor='black', showline=True,
              linecolor='black', linewidth=1.5, showgrid=False, zeroline=False, automargin=False,
              tickfont=tickfont, fixedrange=True)
for k, p in P.items():
    n = p['n']
    l, r, t, b = p['box']
    xa, ya = ax_ids(n)
    xkey = 'xaxis' if n == 1 else f'xaxis{n}'
    ykey = 'yaxis' if n == 1 else f'yaxis{n}'
    xt = xt_f if k == 'f' else (xt_h if k == 'h' else xt_std)
    layout[xkey] = dict(domain=[px(l), px(r)], range=[0, p['xr']], anchor=ya, tickvals=xt[0], ticktext=xt[1],
                        mirror=True, **common)
    layout[ykey] = dict(domain=[py(b), py(t)], range=[0, p['yr']], anchor=xa, tickvals=p['yt'],
                        ticktext=[p['yf'].format(v) for v in p['yt']], tickangle=-90, mirror=True, **common)
    if k in right_ax:
        m = right_ax[k]
        layout[f'yaxis{m}'] = dict(overlaying=ya, side='right', anchor=xa, range=[0, 100],
                                   tickvals=[0, 20, 40, 60, 80, 100],
                                   ticktext=['0', '20', '40', '60', '80', '100'], tickangle=-90, **common)
    # dashed end-of-injection line
    xe = inj_end[k] if k in inj_end else inj_end_ae
    shapes.append(dict(type='line', xref=xa, yref=f'{ya} domain', x0=xe, x1=xe, y0=0, y1=1,
                       line=dict(color='black', width=1.6, dash='6px,4px')))
    # titles
    cx = (l + r) / 2
    row_time_y = {37: 411, 456: 832, 943: 1322}[t]
    row_sub_y = {37: 21, 456: 442, 943: 877}[t]
    row_letter_y = {37: 32, 456: 452, 943: 876}[t]
    ann('<b>Time (kyr)</b>', px(cx), py(row_time_y), size=18)
    ann('<b>' + subtitle[k] + '</b>', px(l), py(row_sub_y), size=18, xanchor='left')
    letter_x = {'a': 18, 'b': 408, 'c': 796, 'd': 18, 'e': 408, 'f': 22, 'g': 437, 'h': 827}[k]
    ann('<b>' + k + '</b>', px(letter_x), py(row_letter_y), size=21)
    if p['yl']:
        ann('<b>' + p['yl'] + '</b>', px(p['ylx']), py((t + b) / 2), size=18, textangle=-90)

ann('<b>Cumulative Cu (%)</b>', px(1213), py(1104), size=18, textangle=-90)

# ---- "End of magma injection" arrow in panel a
annotations.append(dict(x=inj_end_ae + 1.5, y=arrow_y, xref='x', yref='y', ax=arrow_tail, ay=arrow_y,
                        axref='x', ayref='y', text='', showarrow=True, arrowhead=2, arrowsize=1.4,
                        arrowwidth=1.5, arrowcolor='black'))
ann('End of magma', px(197), py(60), size=19, color='#222', xanchor='left')
ann('injection', px(197), py(82), size=19, color='#222', xanchor='left')

# ---- magma injection / fluid release bars (panels f, g, h)
for k in ('f', 'g', 'h'):
    xa, _ = ax_ids(P[k]['n'])
    for yb, xend, col, txt in ((902, inj_end[k], '#222', 'Magma injection'),
                               (923, fluid_end[k], BARRED, 'Fluid release')):
        shapes.append(dict(type='line', xref=xa, yref='paper', x0=0, x1=xend, y0=py(yb), y1=py(yb),
                           line=dict(color=col, width=1.6)))
        for xc in (0, xend):
            shapes.append(dict(type='line', xref=xa, yref='paper', x0=xc, x1=xc, y0=py(yb - 6), y1=py(yb + 6),
                               line=dict(color=col, width=1.6)))
        ann(txt, xend, py(yb), size=19, color=('#333' if col == '#222' else '#d03a2e'), xanchor='left',
            xref=xa, xshift=6)

# ---- legend panel
LF = 21
TF = 20
shapes.append(dict(type='rect', xref='paper', yref='paper', x0=px(806), x1=px(848), y0=py(501), y1=py(461),
                   fillcolor=LIGHT, line=dict(width=0)))
shapes.append(dict(type='rect', xref='paper', yref='paper', x0=px(806), x1=px(848), y0=py(493), y1=py(470),
                   fillcolor=DARK, line=dict(width=0)))
shapes.append(dict(type='line', xref='paper', yref='paper', x0=px(806), x1=px(848), y0=py(481.5), y1=py(481.5),
                   line=dict(color='#222', width=1.8)))
ann('Median with contours of the 68%', px(863), py(468), size=LF, color='#111', xanchor='left')
ann('and 95% confidence intervals', px(863), py(489), size=LF, color='#111', xanchor='left')
shapes.append(dict(type='line', xref='paper', yref='paper', x0=px(806), x1=px(848), y0=py(533), y1=py(533),
                   line=dict(color=RED, width=1.6)))
ann('Median contribution of the first', px(863), py(520), size=LF, color='#111', xanchor='left')
ann('outgassing event', px(863), py(541), size=LF, color='#111', xanchor='left')
shapes.append(dict(type='line', xref='paper', yref='paper', x0=px(806), x1=px(848), y0=py(572), y1=py(572),
                   line=dict(color='black', width=1.6, dash='6px,4px,2px,4px')))
ann('Cumulative mass of extracted Cu', px(863), py(572), size=LF, color='#111', xanchor='left')
NS = 14
for i in range(NS):
    f = i / (NS - 1)
    rr = int(244 + (200 - 244) * f)
    gg = int(215 + (16 - 215) * f)
    bb = int(220 + (46 - 220) * f)
    y0 = 603 + i * (17 / NS)
    shapes.append(dict(type='rect', xref='paper', yref='paper', x0=px(806), x1=px(848),
                       y0=py(y0 + 17 / NS + 0.3), y1=py(y0), fillcolor=f'rgb({rr},{gg},{bb})', line=dict(width=0)))
ann('Typical limit of detection for', px(863), py(603), size=LF, color='#111', xanchor='left')
ann('LA-ICP-MS analysis', px(863), py(624), size=LF, color='#111', xanchor='left')

ann('Median', px(809), py(660), size=LF, color='#111', xanchor='left')
ann('with', px(809), py(681), size=LF, color='#111', xanchor='left')
ann('X<sub>initial</sub> (p.p.m.)\u2009/\u2009D<sub>X</sub><sup>fluid/melt</sup>', px(934), py(660), size=LF,
    color='#111', xanchor='left')
for x0, x1, col in ((903, 945, DBLUE), (1016, 1057, LBLUE), (1128, 1169, GREEN)):
    shapes.append(dict(type='line', xref='paper', yref='paper', x0=px(x0), x1=px(x1), y0=py(691), y1=py(691),
                       line=dict(color=col, width=2, dash='dot')))
shapes.append(dict(type='line', xref='paper', yref='paper', x0=px(840), x1=px(1220), y0=py(700), y1=py(700),
                   line=dict(color='#888', width=1.5)))
row_y = [717, 743, 770, 797, 823]
for el, c1, c2, c3, yy in zip(leg_elements, leg_col1, leg_col2, leg_col3, row_y):
    ann(el, px(841), py(yy), size=LF, color='#111', xanchor='left')
    for xx, txt in ((905, c1), (1017, c2), (1129, c3)):
        ann(txt.replace(' / ', '\u2009/\u2009'), px(xx), py(yy), size=TF, color='#111', xanchor='left')
ann('Element', px(819), py(768), size=LF, color='#111', textangle=-90)

fig.update_layout(**layout)
fig.update_layout(template='none', width=W, height=H, margin=dict(l=0, r=0, t=0, b=0, autoexpand=False),
                  paper_bgcolor='white', plot_bgcolor='white', showlegend=False, shapes=shapes,
                  annotations=annotations, font=dict(family=FONT, color='#111'))
fig.write_html("out.html", config={'displayModeBar': False},
               post_script="document.body.style.margin='0px';document.body.style.padding='0px';"
                           "document.documentElement.style.overflow='hidden';")
